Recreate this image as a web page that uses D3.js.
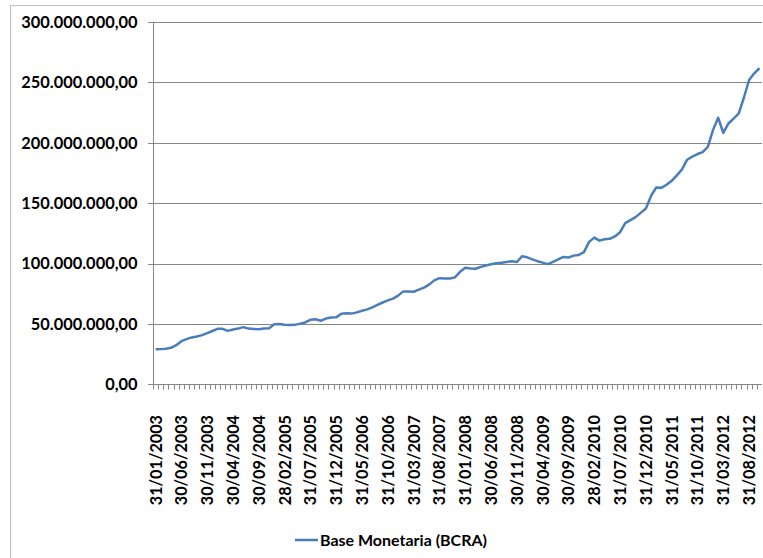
<!doctype html>
<html>
<head>
<meta charset='utf-8'>
<title>Base Monetaria (BCRA)</title>
<script src='https://cdn.jsdelivr.net/npm/d3@7/dist/d3.min.js'></script>
<style>
  html, body { margin:0; padding:0; background:white; }
  svg { display:block; font-family:Lato, 'Open Sans', sans-serif; font-weight:bold; }
  .grid line { stroke:#868686; stroke-width:1; shape-rendering:crispEdges; }
  .tick line, .domain { stroke:#868686; shape-rendering:crispEdges; }
</style>
</head>
<body>
<script>
  // serie mensual, millones de pesos (fin de mes, ene-2003 .. oct-2012)
  var firstMonth = new Date(2003, 0, 1)
  var monthCount = 118

  var baseMonetaria = [
    29.0, 29.2, 29.6, 30.3, 32.5, 35.8, 37.5, 38.9, 39.6, 40.8,
    42.5, 44.2, 46.0, 46.0, 44.3, 45.5, 46.2, 47.4, 46.2, 45.9,
    45.6, 46.2, 46.5, 49.8, 50.0, 49.4, 49.2, 49.3, 50.3, 51.3,
    53.5, 53.9, 52.7, 54.5, 55.4, 55.5, 58.5, 58.8, 58.6, 59.6,
    61.0, 62.1, 63.8, 65.8, 67.8, 69.6, 71.0, 73.5, 77.0, 77.0,
    76.7, 78.4, 80.1, 82.6, 86.1, 87.9, 87.7, 87.6, 88.6, 93.2,
    96.5, 96.0, 95.7, 97.3, 98.4, 99.5, 100.2, 100.7, 101.4, 102.0,
    101.3, 106.0, 105.2, 103.5, 102.0, 100.8, 99.6, 101.5, 103.5, 105.5,
    105.0, 106.6, 107.2, 109.5, 118.0, 121.5, 119.0, 120.2, 120.5, 122.5,
    126.0, 133.5, 136.0, 138.5, 142.0, 145.6, 156.0, 163.0, 162.7, 165.3,
    168.5, 173.0, 178.0, 186.0, 188.5, 190.7, 192.3, 196.7, 210.5, 220.8,
    208.3, 216.0, 220.0, 224.4, 237.5, 252.0, 257.5, 261.7
  ]

  var xTickLabels = [
    '31/01/2003','30/06/2003','30/11/2003','30/04/2004','30/09/2004',
    '28/02/2005','31/07/2005','31/12/2005','31/05/2006','31/10/2006',
    '31/03/2007','31/08/2007','31/01/2008','30/06/2008','30/11/2008',
    '30/04/2009','30/09/2009','28/02/2010','31/07/2010','31/12/2010',
    '31/05/2011','31/10/2011','31/03/2012','31/08/2012'
  ]

  var yTicks = [0, 50, 100, 150, 200, 250, 300]
  var seriesName = 'Base Monetaria (BCRA)'
  var unit = 1e6

  /*
   * categorias = ultimo dia de cada mes
   */
  var fmtDate = d3.timeFormat('%d/%m/%Y')
  var categories = d3.range(monthCount).map(function(i){
    return fmtDate(d3.timeDay.offset(d3.timeMonth.offset(firstMonth, i + 1), -1))
  })

  var es = d3.formatLocale({decimal:',', thousands:'.', grouping:[3], currency:['','']})
  var fmtNum = es.format(',.2f')

  var W = 763, H = 558
  var m = {left:153, right:1, top:22, bottom:173.6}

  var svg = d3.select('body').append('svg')
      .attr('width', W)
      .attr('height', H)

  // marco exterior
  svg.append('rect')
     .attr('x', 10.5).attr('y', 5.5)
     .attr('width', W + 20).attr('height', H + 20)
     .attr('fill', 'white')
     .attr('stroke', '#bfbfbf')

  var x = d3.scaleBand()
      .domain(categories)
      .range([m.left, W - m.right])
      .padding(0)

  var y = d3.scaleLinear()
      .domain([0, 300])
      .range([H - m.bottom, m.top])

  // grilla
  svg.append('g').attr('class', 'grid')
     .selectAll('line')
     .data(yTicks.filter(function(d){ return d > 0 }))
     .enter().append('line')
     .attr('x1', m.left).attr('x2', W - m.right)
     .attr('y1', function(d){ return Math.round(y(d)) + 0.5 })
     .attr('y2', function(d){ return Math.round(y(d)) + 0.5 })

  // eje Y
  var yAxis = svg.append('g')
      .attr('transform', 'translate(' + (m.left + 0.5) + ',0)')
      .call(d3.axisLeft(y).tickValues(yTicks).tickSize(6).tickPadding(10)
        .tickFormat(function(d){ return fmtNum(d * unit) }))
  yAxis.selectAll('text')
       .attr('fill', '#000')
       .style('font-size', '16.4px')
       .style('font-family', 'Lato')
  yAxis.selectAll('.domain').attr('d', 'M0,' + y(300) + 'V' + y(0))

  // eje X: marcas en los limites de cada categoria
  var baseY = Math.round(y(0)) + 0.5
  var gx = svg.append('g')
  gx.append('line')
    .attr('x1', m.left).attr('x2', W - m.right)
    .attr('y1', baseY).attr('y2', baseY)
    .attr('stroke', '#868686')
  gx.selectAll('.xt')
    .data(categories)
    .enter().append('line')
    .attr('class', 'xt')
    .attr('x1', function(d){ return Math.round(x(d)) + 0.5 })
    .attr('x2', function(d){ return Math.round(x(d)) + 0.5 })
    .attr('y1', baseY).attr('y2', baseY + 5)
    .attr('stroke', '#868686')

  gx.selectAll('.xl')
    .data(xTickLabels)
    .enter().append('text')
    .attr('class', 'xl')
    .attr('transform', function(d){
      return 'translate(' + (x(d) + x.bandwidth() / 2 + 6) + ',' + 415 + ') rotate(-90)'
    })
    .attr('text-anchor', 'end')
    .style('font-size', '16.2px')
    .text(function(d){ return d })

  // serie
  var line = d3.line()
      .x(function(d, i){ return x(categories[i]) + x.bandwidth() / 2 })
      .y(function(d){ return y(d) })

  svg.append('path')
     .datum(baseMonetaria)
     .attr('d', line)
     .attr('fill', 'none')
     .attr('stroke', '#4A7EBB')
     .attr('stroke-width', 2.5)
     .attr('stroke-linejoin', 'round')

  // leyenda
  var lg = svg.append('g').attr('transform', 'translate(295,540)')
  lg.append('line')
    .attr('x1', 0).attr('x2', 23)
    .attr('stroke', '#4A7EBB').attr('stroke-width', 2.5)
  lg.append('text')
    .attr('x', 25).attr('dy', '0.35em')
    .style('font-size', '16px')
    .text(seriesName)
</script>
</body>
</html>
